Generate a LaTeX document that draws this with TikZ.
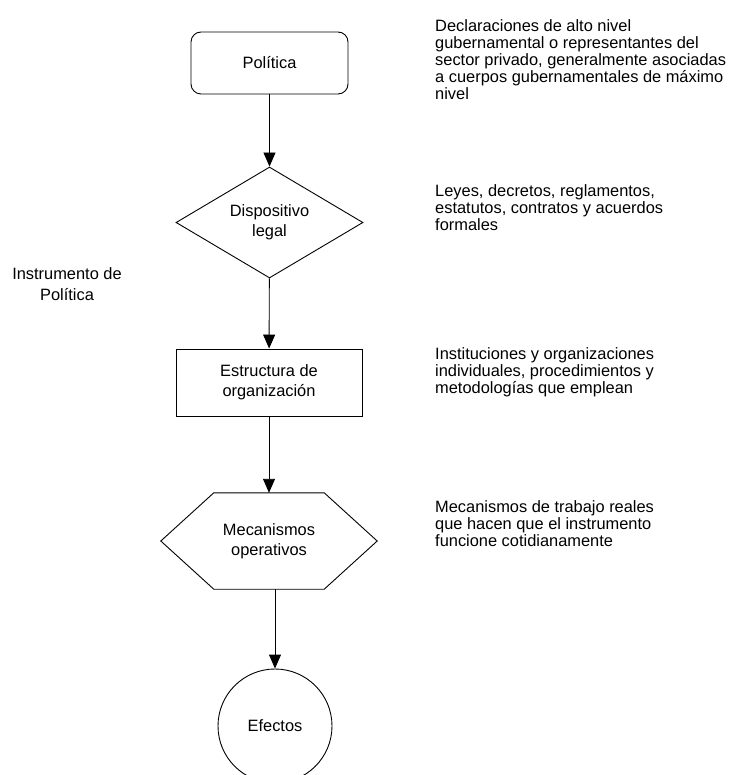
\documentclass[tikz,border=0pt]{standalone}
\usepackage{fontspec}
\setmainfont{Liberation Sans}
\usetikzlibrary{shapes.geometric,arrows.meta}
\begin{document}
\begin{tikzpicture}[x=1pt,y=-1pt,
  every node/.style={font=\fontsize{16.4}{20}\selectfont},
  flow/.style={draw=black, line width=0.9pt, align=center, inner sep=0pt},
  link/.style={draw=black, line width=0.9pt, -{Triangle[length=14pt,width=12pt]}},
  note/.style={anchor=north west, align=left, inner sep=0pt,
    font=\fontsize{16.4}{17}\selectfont}
]
\useasboundingbox (0,0) rectangle (733,775);

% flow of the policy instrument
\node[flow, rounded corners=10pt, minimum width=157pt, minimum height=62pt] (pol) at (269.5,63) {Política};
\node[flow, diamond, aspect=1.7, minimum width=187pt, minimum height=111pt] (dis) at (269.5,222.5) {Dispositivo\\legal};
\node[flow, rectangle, minimum width=186pt, minimum height=67pt] (est) at (269,382.5) {Estructura de\\organización};
\node[align=center, inner sep=0pt, minimum width=216pt, minimum height=96pt] (mec) at (269,541) {Mecanismos\\operativos};
\draw[line width=0.9pt] (mec.west) -- ([xshift=53pt]mec.north west) -- ([xshift=-53pt]mec.north east)
  -- (mec.east) -- ([xshift=-53pt]mec.south east) -- ([xshift=53pt]mec.south west) -- cycle;
\node[flow, circle, minimum size=114pt] (efe) at (275,726) {Efectos};

\draw[link] (pol) -- (dis);
\draw[link] (dis) -- (est);
\draw[link] (est) -- (mec);
\draw[link] (mec.south -| efe.north) -- (efe.north);

% descriptions
\node[note] (n1) at (435,19) {Declaraciones de alto nivel\\gubernamental o representantes del\\sector privado, generalmente asociadas\\a cuerpos gubernamentales de máximo\\nivel};
\node[note] (n2) at (435,184) {Leyes, decretos, reglamentos,\\estatutos, contratos y acuerdos\\formales};
\node[note] (n3) at (435,347) {Instituciones y organizaciones\\individuales, procedimientos y\\metodologías que emplean};
\node[note] (n4) at (435,500) {Mecanismos de trabajo reales\\que hacen que el instrumento\\funcione cotidianamente};

\node[align=center, inner sep=0pt, font=\fontsize{16.4}{21}\selectfont] (ins) at (67,284) {Instrumento de\\Política};
\end{tikzpicture}
\end{document}
